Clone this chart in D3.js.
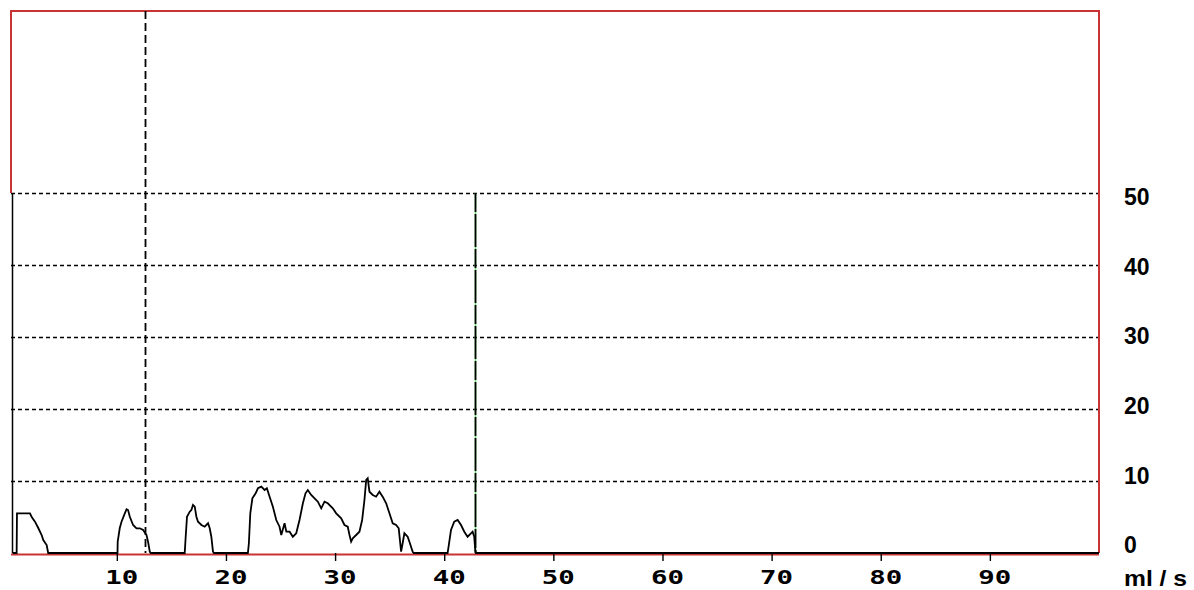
<!DOCTYPE html>
<html>
<head>
<meta charset="utf-8">
<script src="https://cdn.jsdelivr.net/npm/d3@7"></script>
<style>
  html, body { margin: 0; padding: 0; background: #ffffff; }
  svg { display: block; }
</style>
</head>
<body>
<svg id="chart" width="1194" height="590"></svg>
<script>
// Uroflow trace: time (s) and flow rate (ml/s)
const flowTime = [
  0.45, 0.82, 0.85, 2.04, 2.20, 2.50, 2.80, 3.11, 3.26, 3.57, 3.71,
  10.06, 10.08, 10.27, 10.43, 10.73, 10.89, 11.03, 11.19, 11.49, 11.80, 12.10, 12.41, 12.72, 12.86, 13.02, 13.10,
  16.22, 16.31, 16.43, 16.68, 16.83, 16.98, 17.14, 17.29, 17.44, 17.75, 18.05, 18.36, 18.51, 18.66, 18.81, 18.90,
  22.01, 22.10, 22.23, 22.42, 22.72, 22.93, 23.24, 23.54, 23.75, 24.00, 24.30, 24.61, 24.91, 25.07, 25.37, 25.53,
  25.83, 26.13, 26.44, 26.74, 27.05, 27.29, 27.50, 27.81, 28.12, 28.42, 28.73, 29.03, 29.33, 29.79, 30.10, 30.56,
  30.86, 31.16, 31.32, 31.47, 31.62, 31.93, 32.23, 32.48, 32.69, 32.85, 32.99, 33.15, 33.45, 33.76, 34.06, 34.36,
  34.68, 34.98, 35.28, 35.59, 35.83, 36.05, 36.19, 36.35, 36.65, 36.81, 37.11, 37.20,
  40.31, 40.40, 40.62, 40.92, 41.23, 41.54, 41.84, 42.14, 42.45, 42.60, 42.75, 42.84, 42.90,
  100
];
const flowRate = [
  0, 0, 5.5, 5.5, 5.0, 4.35, 3.47, 2.5, 1.8, 1.1, 0,
  0, 1.57, 3.47, 4.35, 5.51, 6.07, 5.97, 5.04, 3.89, 3.43, 3.43, 3.19, 2.5, 1.57, 0.18, 0,
  0, 2.26, 5.04, 5.74, 5.97, 6.67, 6.43, 5.04, 4.35, 3.89, 3.65, 4.13, 3.43, 2.26, 0.18, 0,
  0, 1.35, 5.51, 7.6, 8.29, 8.99, 9.21, 8.75, 8.99, 7.82, 6.43, 4.58, 3.65, 2.5, 4.13, 2.96,
  2.96, 2.26, 2.74, 4.58, 6.9, 8.29, 8.75, 8.06, 7.6, 7.13, 6.21, 7.13, 6.9, 6.21, 5.51, 4.82,
  3.89, 3.65, 2.5, 1.57, 2.04, 2.5, 2.96, 4.58, 7.36, 10.14, 10.38, 8.51, 8.06, 7.82, 8.51, 7.82,
  6.9, 5.51, 4.13, 3.89, 3.43, 0.18, 1.35, 2.74, 2.26, 1.57, 0.18, 0,
  0, 0.88, 3.19, 4.35, 4.58, 3.89, 2.96, 2.26, 2.74, 2.96, 2.26, 0.42, 0,
  0
];

// Axis ticks and markers
const timeTicks = [10, 20, 30, 40, 50, 60, 70, 80, 90];
const rateTicks = [0, 10, 20, 30, 40, 50];
const rateGrid = [10, 20, 30, 40, 50];
const markerTime = 12.57;   // dashed marker
const endTime = 42.85;      // end of voiding

const svg = d3.select("#chart");

const x = d3.scaleLinear().domain([0, 100]).range([7.7, 1099]);
const y = d3.scaleLinear().domain([0, 50]).range([553, 193]);
// label placement for the rate axis
const yLabel = d3.scaleLinear().domain([0, 50]).range([545, 197]);

const red = "#c83434";
const left = 11, right = x(100), frameTop = 11;

// horizontal dotted grid
svg.append("g").selectAll("line").data(rateGrid).join("line")
  .attr("x1", left).attr("x2", right)
  .attr("y1", d => Math.round(y(d)) + 0.5).attr("y2", d => Math.round(y(d)) + 0.5)
  .attr("stroke", "#000").attr("stroke-width", 1.5)
  .attr("stroke-dasharray", "4,3");

// red frame: top, left upper part, right side, bottom
const frame = svg.append("g").attr("fill", "none").attr("stroke", red).attr("stroke-width", 2);
frame.append("path")
  .attr("d", `M${left},${y(50)} L${left},${frameTop} L${right},${frameTop} L${right},${y(0)}`);
frame.append("line")
  .attr("x1", left).attr("x2", right)
  .attr("y1", y(0) + 1.5).attr("y2", y(0) + 1.5);

// left axis line of the plotting area
svg.append("line")
  .attr("x1", 12.5).attr("x2", 12.5)
  .attr("y1", y(50)).attr("y2", y(0))
  .attr("stroke", "#000").attr("stroke-width", 1.5);

// dashed vertical marker
svg.append("line")
  .attr("x1", Math.round(x(markerTime)) + 0.5).attr("x2", Math.round(x(markerTime)) + 0.5)
  .attr("y1", frameTop).attr("y2", y(0))
  .attr("stroke", "#000").attr("stroke-width", 1.8)
  .attr("stroke-dasharray", "8,4");

// end-of-voiding line: black with small green gaps
const ex = Math.round(x(endTime)) + 0.5;
svg.append("line")
  .attr("x1", ex).attr("x2", ex)
  .attr("y1", y(50)).attr("y2", y(0))
  .attr("stroke", "#70e070").attr("stroke-width", 1.6);
svg.append("line")
  .attr("x1", ex).attr("x2", ex)
  .attr("y1", y(50)).attr("y2", y(0))
  .attr("stroke", "#000").attr("stroke-width", 1.8)
  .attr("stroke-dasharray", "19,2,33,2");

// flow trace
const pts = flowTime.map((t, i) => [t, flowRate[i]]);
svg.append("path")
  .datum(pts)
  .attr("fill", "none")
  .attr("stroke", "#000")
  .attr("stroke-width", 1.8)
  .attr("stroke-linejoin", "miter")
  .attr("d", d3.line().x(d => x(d[0])).y(d => y(d[1])));

// time axis ticks and labels
const xAxis = d3.axisBottom(x).tickValues(timeTicks).tickSize(8).tickFormat(d3.format("d"));
const gx = svg.append("g").attr("transform", `translate(0,${y(0)})`).call(xAxis);
gx.select(".domain").remove();
gx.selectAll(".tick line").attr("stroke", "#000").attr("stroke-width", 1.4);
gx.selectAll(".tick text")
  .attr("x", 4.5).attr("y", 17).attr("dy", "0.71em")
  .attr("font-family", "DejaVu Sans Mono").attr("font-weight", "bold")
  .attr("font-size", 20).attr("fill", "#000")
  .attr("textLength", 33).attr("lengthAdjust", "spacingAndGlyphs");

// rate axis labels on the right
svg.append("g").selectAll("text").data(rateTicks).join("text")
  .attr("x", 1124)
  .attr("y", d => yLabel(d))
  .attr("dy", "0.36em")
  .attr("font-family", "Liberation Sans, Arial, sans-serif")
  .attr("font-weight", "bold").attr("font-size", 23)
  .attr("fill", "#000")
  .text(d => d);

svg.append("text")
  .attr("x", 1124).attr("y", 586)
  .attr("font-family", "Liberation Sans, Arial, sans-serif")
  .attr("font-weight", "bold").attr("font-size", 22)
  .attr("fill", "#000")
  .attr("textLength", 63).attr("lengthAdjust", "spacingAndGlyphs")
  .text("ml / s");
</script>
</body>
</html>
